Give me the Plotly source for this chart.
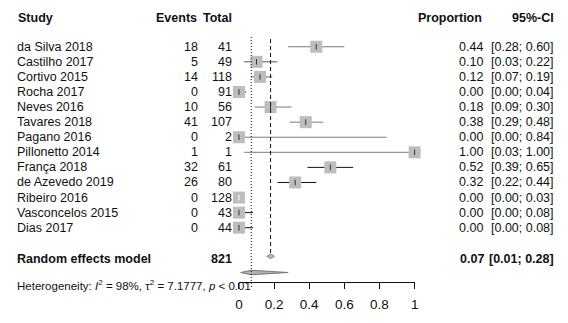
import plotly.graph_objects as go

studies = ["da Silva 2018", "Castilho 2017", "Cortivo 2015", "Rocha 2017", "Neves 2016",
           "Tavares 2018", "Pagano 2016", "Pillonetto 2014", "França 2018", "de Azevedo 2019",
           "Ribeiro 2016", "Vasconcelos 2015", "Dias 2017"]
events = [18, 5, 14, 0, 10, 41, 0, 1, 32, 26, 0, 0, 0]
totals = [41, 49, 118, 91, 56, 107, 2, 1, 61, 80, 128, 43, 44]
proportion = [0.44, 0.10, 0.12, 0.00, 0.18, 0.38, 0.00, 1.00, 0.52, 0.32, 0.00, 0.00, 0.00]
ci_lower = [0.28, 0.03, 0.07, 0.00, 0.09, 0.29, 0.00, 0.03, 0.39, 0.22, 0.00, 0.00, 0.00]
ci_upper = [0.60, 0.22, 0.19, 0.04, 0.30, 0.48, 0.84, 1.00, 0.65, 0.44, 0.03, 0.08, 0.08]

random_total = 821
random_est = 0.07
random_lower = 0.01
random_upper = 0.28
common_est = 0.18
heterogeneity = "Heterogeneity: <i>I</i><sup>2</sup> = 98%, τ<sup>2</sup> = 7.1777, <i>p</i> < 0.01"

tick_vals = [0, 0.2, 0.4, 0.6, 0.8, 1]
tick_text = ["0", "0.2", "0.4", "0.6", "0.8", "1"]

# styles
ci_colors = ["#7a7a7a", "#555555", "#666666", "#111111", "#7a7a7a", "#7a7a7a", "#7a7a7a",
             "#7a7a7a", "#111111", "#111111", "#ffffff", "#111111", "#111111"]
FONT = "Liberation Sans, Arial, sans-serif"
W, H = 568, 323
FS = 12.5
TXT = "#111111"

rows = list(range(len(studies)))
re_row = 14.09
diamond_row = 14.97
common_row = 13.9
header_row = -1.9

fig = go.Figure()

# CI lines
for i in rows:
    fig.add_trace(go.Scatter(x=[ci_lower[i], ci_upper[i]], y=[i, i], mode="lines",
                             line=dict(color=ci_colors[i], width=1), hoverinfo="skip",
                             showlegend=False, cliponaxis=False))
# squares
fig.add_trace(go.Scatter(x=proportion, y=rows, mode="markers",
                         marker=dict(symbol="square", size=12, color="#bdbdbd", line=dict(width=0)),
                         showlegend=False, cliponaxis=False))
# estimate ticks
fig.add_trace(go.Scatter(x=proportion, y=rows, mode="markers",
                         marker=dict(symbol="line-ns", size=4,
                                     line=dict(color=["#ffffff" if c == "#ffffff" else "#333333" for c in ci_colors], width=1)),
                         showlegend=False, cliponaxis=False))

# random effects diamond (elongated)
hh = 0.15
fig.add_trace(go.Scatter(x=[random_lower, random_est, random_upper, random_est, random_lower],
                         y=[diamond_row, diamond_row - hh, diamond_row, diamond_row + hh, diamond_row],
                         mode="lines", fill="toself", fillcolor="#b0b0b0",
                         line=dict(color="#777777", width=1), showlegend=False, cliponaxis=False))
# small diamond at common estimate
dw = 0.022
fig.add_trace(go.Scatter(x=[common_est - dw, common_est, common_est + dw, common_est, common_est - dw],
                         y=[common_row, common_row - hh, common_row, common_row + hh, common_row],
                         mode="lines", fill="toself", fillcolor="#b8b8b8",
                         line=dict(color="#888888", width=1), showlegend=False, cliponaxis=False))

# reference lines
fig.add_shape(type="line", xref="x", yref="paper", x0=random_est, x1=random_est,
              y0=(H - 287) / H, y1=(H - 37) / H, line=dict(color="#111111", width=1, dash="1px,2px"))
fig.add_shape(type="line", xref="x", yref="paper", x0=common_est, x1=common_est,
              y0=(H - 253) / H, y1=(H - 37) / H, line=dict(color="#111111", width=1, dash="4px,3px"))


def txt(x_px, y, text, anchor, bold=False, size=FS, yref="y"):
    fig.add_annotation(x=x_px / W, xref="paper", y=y, yref=yref, text=f"<b>{text}</b>" if bold else text,
                       showarrow=False, xanchor=anchor, yanchor="middle",
                       font=dict(family=FONT, size=size, color=TXT))


LX = 11
# headers
txt(LX + 1, header_row, "Study", "left", True)
txt(198, header_row, "Events", "right", True)
txt(233, header_row, "Total", "right", True)
txt(487, header_row, "Proportion", "right", True)
txt(560, header_row, "95%-CI", "right", True)

for i in rows:
    txt(LX, i, studies[i], "left")
    txt(199, i, str(events[i]), "right")
    txt(233, i, str(totals[i]), "right")
    txt(488, i, f"{proportion[i]:.2f}", "right")
    txt(560, i, f"[{ci_lower[i]:.2f}; {ci_upper[i]:.2f}]", "right")

txt(LX, re_row, "Random effects model", "left", True)
txt(233, re_row, str(random_total), "right", True)
txt(489, re_row, f"{random_est:.2f}", "right", True)
txt(560, re_row, f"[{random_lower:.2f}; {random_upper:.2f}]", "right", True)

txt(LX, (H - 285) / H, heterogeneity, "left", size=11.5, yref="paper")

x0_px, x1_px = 238.3, 416.5
fig.update_layout(
    width=W, height=H, margin=dict(l=0, r=0, t=0, b=0),
    paper_bgcolor="white", plot_bgcolor="white",
    xaxis=dict(domain=[x0_px / W, x1_px / W], range=[0, 1], tickvals=tick_vals, ticktext=tick_text,
               showgrid=False, zeroline=False, showline=True, linecolor="#111111", linewidth=1,
               ticks="outside", ticklen=6, tickcolor="#111111", ticklabelstandoff=4,
               tickfont=dict(family=FONT, size=13.5, color=TXT)),
    yaxis=dict(domain=[(H - 282) / H, 1], range=[15.6, -3.1], visible=False),
    showlegend=False,
)

fig.write_html("out.html", config={"displayModeBar": False},
               post_script="document.body.style.margin='0';document.body.style.overflow='hidden';")
